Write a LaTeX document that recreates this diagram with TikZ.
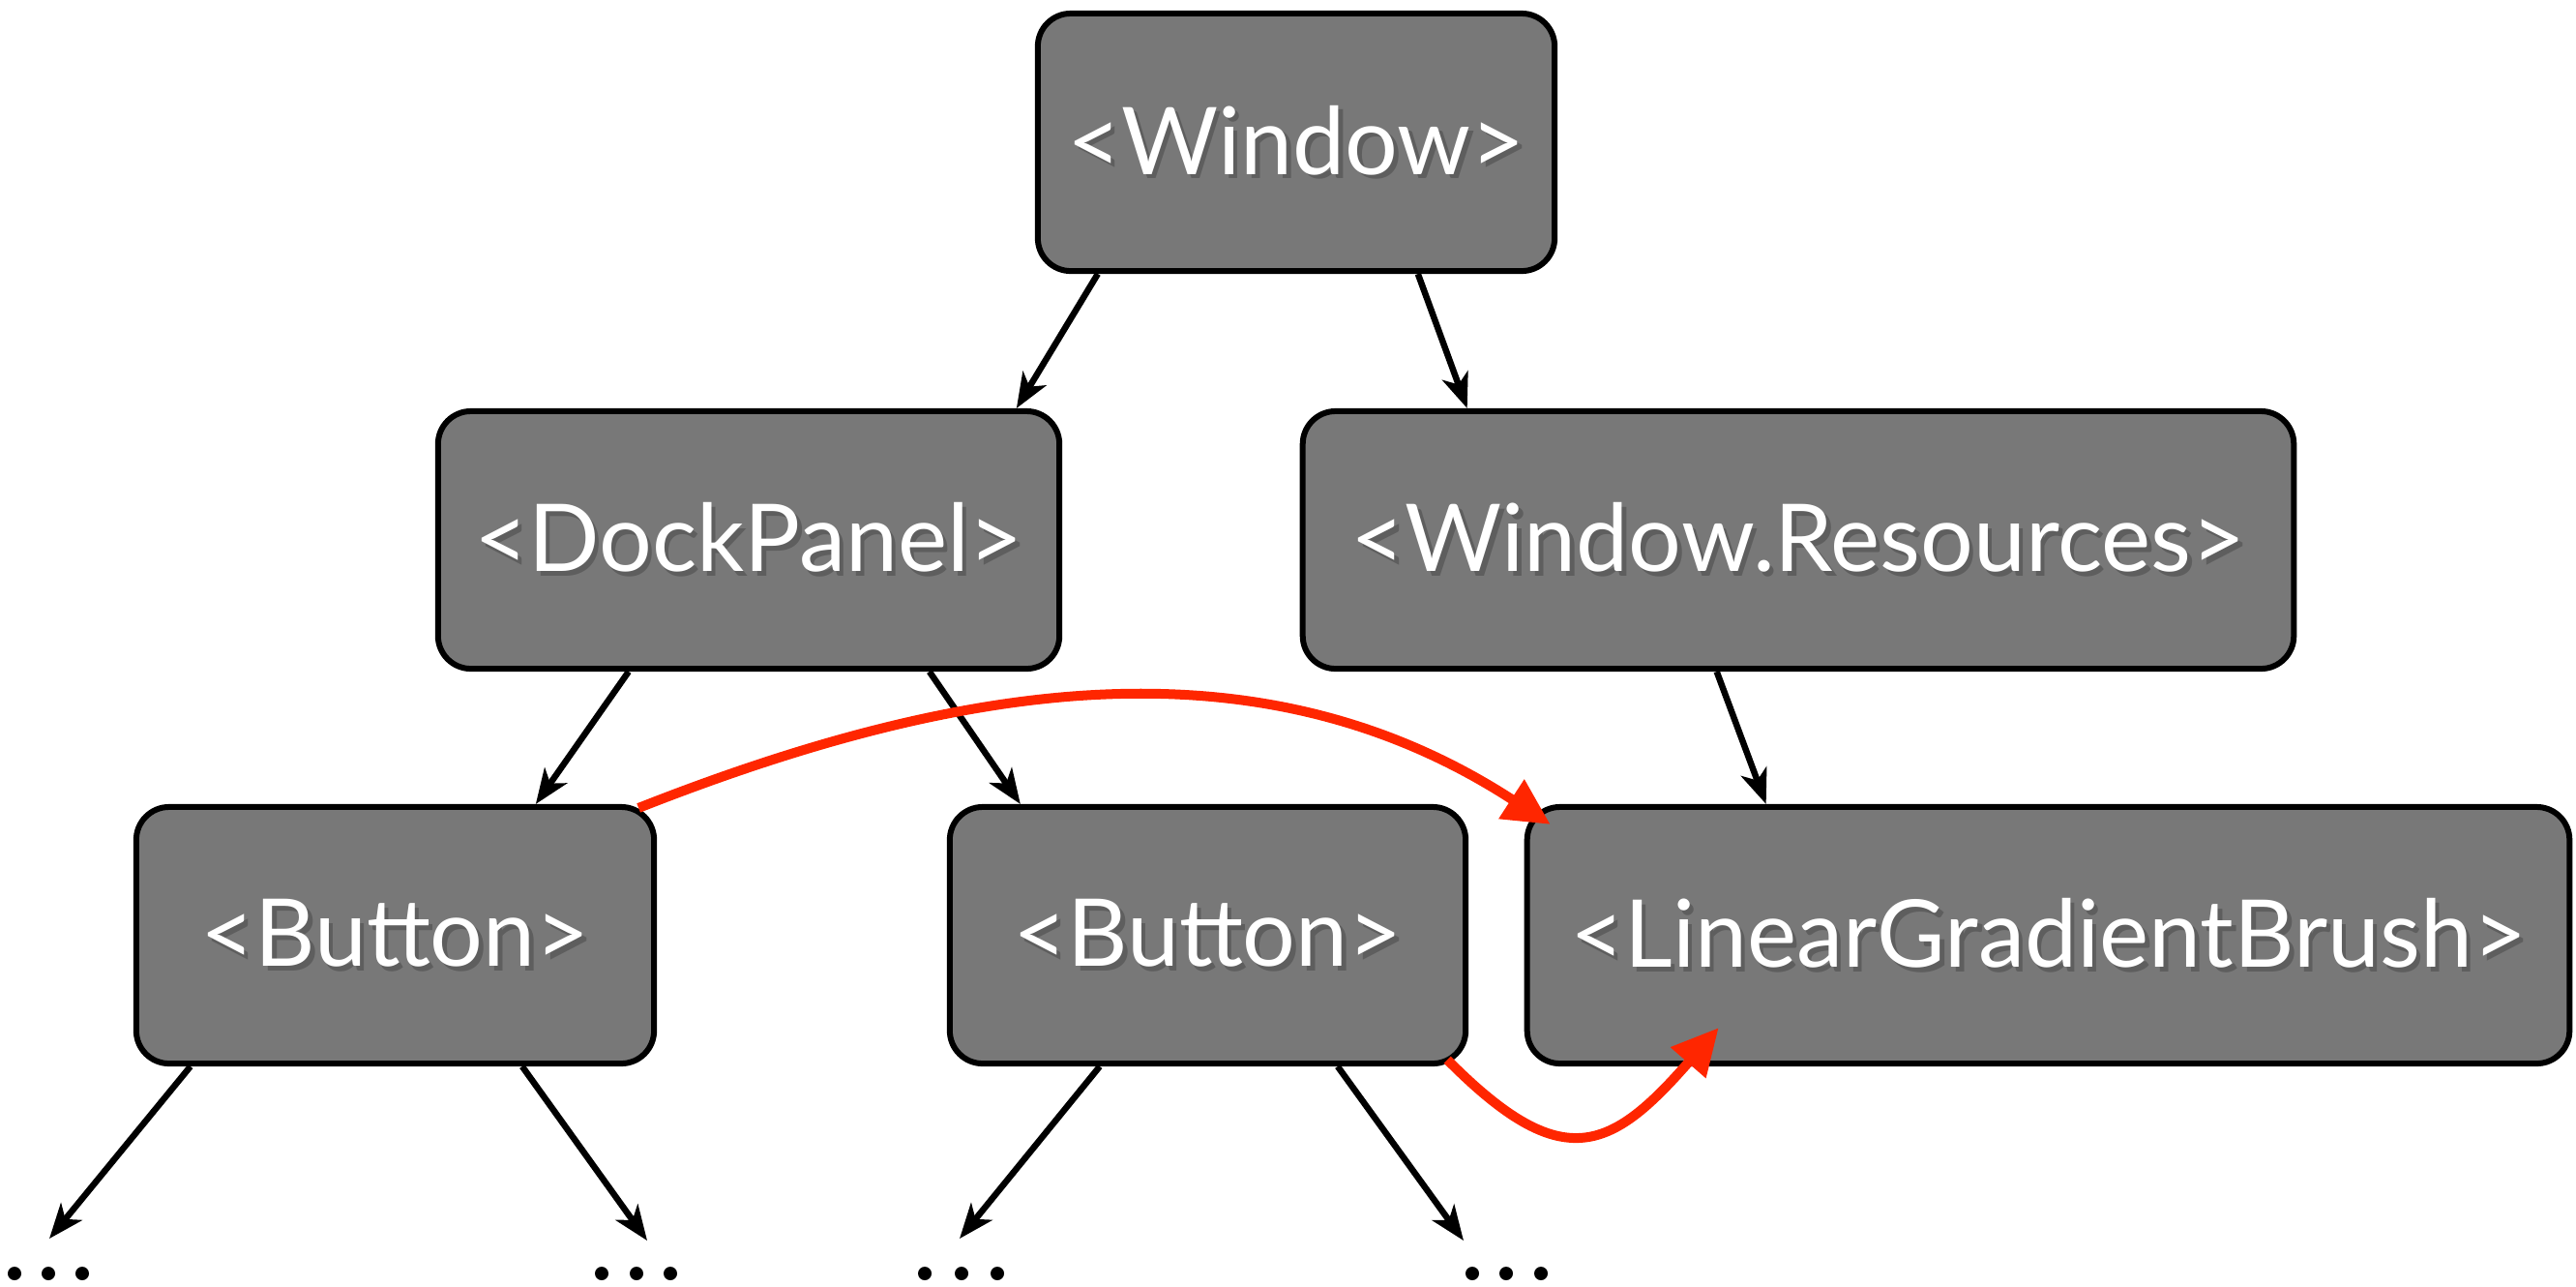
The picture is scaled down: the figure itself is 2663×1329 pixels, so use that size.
\documentclass[tikz,border=0pt]{standalone}
\usepackage{fontspec}
\setmainfont{Lato}
\usetikzlibrary{arrows.meta,calc}
\definecolor{boxgray}{HTML}{787878}
\definecolor{shadowgray}{HTML}{5E5E5E}
\definecolor{linkred}{HTML}{FF2600}
\newcommand\shtext[1]{\makebox[0pt][l]{\hspace{1.3pt}\raisebox{-1.3pt}{\textcolor{shadowgray}{#1}}}#1}
\tikzset{
  box/.style={draw=black, line width=0.06cm, fill=boxgray, rounded corners=0.34cm,
    text=white, font=\fontsize{27.5}{32}\selectfont, inner sep=0pt, anchor=center},
  arr/.style={-{Stealth[length=0.36cm,width=0.28cm,inset=0.1cm]}, line width=0.065cm, draw=black},
  redarr/.style={-{Triangle[length=0.48cm,width=0.46cm]}, line width=0.1cm, draw=linkred},
  dotc/.style={fill=black}
}
\begin{document}
\begin{tikzpicture}[x=0.01cm,y=-0.01cm]
\useasboundingbox (0,0) rectangle (2663,1329);
% boxes
\node[box, minimum width=5.34cm, minimum height=2.66cm] (win) at (1340,147) {\shtext{<Window>}};
\node[box, minimum width=6.42cm, minimum height=2.66cm] (dock) at (774,558) {\shtext{<DockPanel>}};
\node[box, minimum width=10.24cm, minimum height=2.66cm] (res) at (1859,558) {\shtext{<Window.Resources>}};
\node[box, minimum width=5.35cm, minimum height=2.65cm] (b1) at (408.5,966.5) {\shtext{<Button>}};
\node[box, minimum width=5.33cm, minimum height=2.65cm] (b2) at (1248.5,966.5) {\shtext{<Button>}};
\node[box, minimum width=10.77cm, minimum height=2.65cm] (lgb) at (2117.5,966.5) {\shtext{<LinearGradientBrush>}};
% tips for the open ends
\coordinate (t1) at (51,1280);
\coordinate (t2) at (669,1282);
\coordinate (t3) at (992,1280);
\coordinate (t4) at (1513,1282);
% dots
\foreach \x in {15,50,85,622,658,693,956,994,1031,1522,1557,1593}
  \fill[dotc] (\x,1316) circle[radius=7];
% black arrows
\draw[arr] ([shift={(65,0)}]win.south west) -- ([shift={(601,0)}]dock.north west);
\draw[arr] ([shift={(396,0)}]win.south west) -- ([shift={(173,0)}]res.north west);
\draw[arr] ([shift={(200,0)}]dock.south west) -- ([shift={(416,0)}]b1.north west);
\draw[arr] ([shift={(511,0)}]dock.south west) -- ([shift={(76,0)}]b2.north west);
\draw[arr] ([shift={(431,0)}]res.south west) -- ([shift={(250,0)}]lgb.north west);
\draw[arr] ([shift={(59,0)}]b1.south west) -- (t1);
\draw[arr] ([shift={(402,0)}]b1.south west) -- (t2);
\draw[arr] ([shift={(158,0)}]b2.south west) -- (t3);
\draw[arr] ([shift={(404,0)}]b2.south west) -- (t4);
% red arrows
\draw[redarr] ([shift={(-19,4)}]b1.north east) .. controls (990,705) and (1300,655) .. ([shift={(27,21)}]lgb.north west);
\draw[redarr] ([shift={(-22,-7)}]b2.south east) .. controls (1615,1215) and (1665,1190) .. ([shift={(201,-40)}]lgb.south west);
\end{tikzpicture}
\end{document}
